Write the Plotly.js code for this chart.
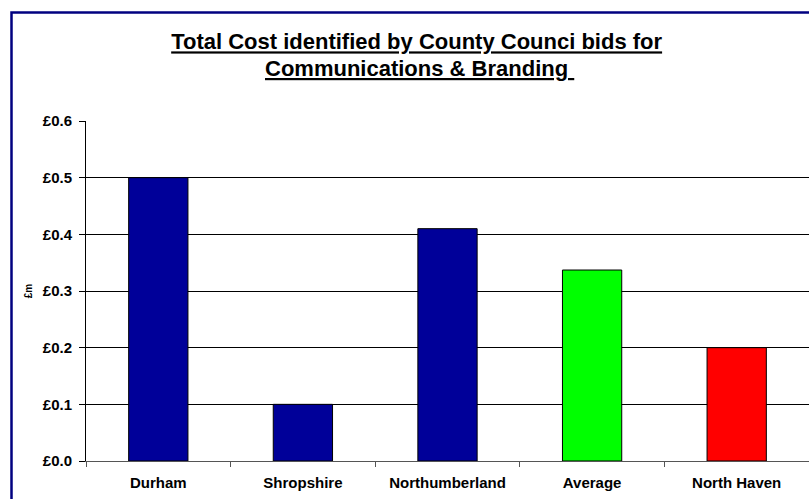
<!DOCTYPE html>
<html>
<head>
<meta charset="utf-8">
<script src="https://cdn.plot.ly/plotly-3.0.1.min.js"></script>
<style>html,body{margin:0;padding:0;background:#fff;}#chart{width:809px;height:499px;}</style>
</head>
<body>
<div id="chart"></div>
<script>
const categories = ["Durham", "Shropshire", "Northumberland", "Average", "North Haven"];
const costs = [0.5, 0.1, 0.41, 0.337, 0.2];
const barColors = ["#000099", "#000099", "#000099", "#00ff00", "#ff0000"];
const yTicks = [0, 0.1, 0.2, 0.3, 0.4, 0.5, 0.6];
const yTickLabels = ["£0.0", "£0.1", "£0.2", "£0.3", "£0.4", "£0.5", "£0.6"];
const titleLine1 = "Total Cost identified by County Counci bids for";
const titleLine2 = "Communications & Branding ";

const font = "Liberation Sans, Arial, sans-serif";
const titleFont = { family: font, size: 22, weight: "bold", color: "#000000" };

const trace = {
  type: "bar",
  x: categories,
  y: costs,
  marker: { color: barColors, line: { color: "#000000", width: 1 } },
  hoverinfo: "none"
};

const layout = {
  width: 809,
  height: 499,
  margin: { l: 86, r: 0, t: 121, b: 38, pad: 0 },
  paper_bgcolor: "#ffffff",
  plot_bgcolor: "#ffffff",
  showlegend: false,
  bargap: 0.59,
  font: { family: font, color: "#000000" },
  title: {
    text: "<u>" + titleLine1 + "</u>",
    font: titleFont,
    xref: "container", x: 0.515, xanchor: "center",
    yref: "container", y: 1 - 34 / 499, yanchor: "top"
  },
  annotations: [{
    text: "<u>" + titleLine2 + "</u>",
    font: titleFont,
    showarrow: false,
    xref: "paper", yref: "paper",
    x: (419 - 86) / 723, xanchor: "center",
    y: (461 - 68) / 340, yanchor: "middle"
  }],
  xaxis: {
    type: "category",
    showline: true, linecolor: "#555555", linewidth: 1,
    ticks: "outside", tickson: "boundaries", ticklen: 5, tickcolor: "#555555",
    showgrid: false,
    ticklabelstandoff: 8,
    tickfont: { family: font, size: 15, weight: "bold", color: "#000000" },
    fixedrange: true
  },
  yaxis: {
    range: [0, 0.6],
    tickmode: "array",
    tickvals: yTicks,
    ticktext: yTickLabels,
    showline: true, linecolor: "#000000", linewidth: 1,
    ticks: "outside", ticklen: 6, tickcolor: "#000000",
    showgrid: true, gridcolor: "#000000", gridwidth: 1,
    zeroline: false,
    ticklabelstandoff: 4,
    tickfont: { family: font, size: 15, weight: "bold", color: "#000000" },
    title: { text: "£m", font: { family: font, size: 10, weight: "bold", color: "#000000" }, standoff: 8 },
    fixedrange: true
  },
  shapes: [{
    type: "rect", xref: "paper", yref: "paper",
    x0: (11.5 - 86) / 723, x1: (813 - 86) / 723,
    y0: (461 - 503) / 340, y1: (461 - 12.5) / 340,
    line: { color: "#000080", width: 2.5 },
    fillcolor: "rgba(0,0,0,0)",
    layer: "above"
  }]
};

Plotly.newPlot("chart", [trace], layout, { displayModeBar: false, staticPlot: true });
</script>
</body>
</html>
